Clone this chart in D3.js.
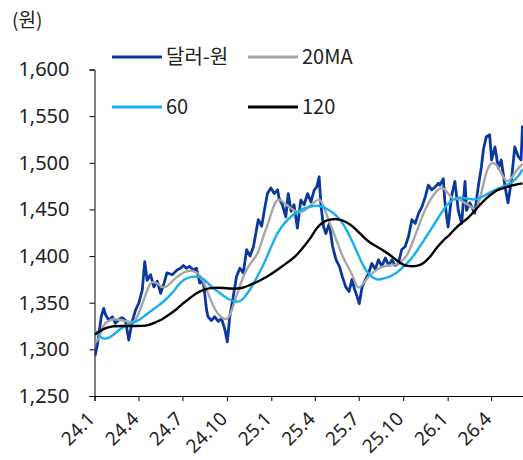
<!DOCTYPE html>
<html>
<head>
<meta charset="utf-8">
<script src="https://cdn.jsdelivr.net/npm/d3@7"></script>
<style>
  html, body { margin: 0; padding: 0; background: #fff; }
  svg text { font-family: "Noto Sans CJK KR", "Noto Sans", sans-serif; fill: #222; }
</style>
</head>
<body>
<div id="chart"></div>
<script>
// 달러-원 (daily)
const usdkrw = [["2024-01-02",1293],["2024-01-07",1305],["2024-01-11",1320],["2024-01-15",1335],["2024-01-20",1344],["2024-01-24",1337],["2024-01-31",1331],["2024-02-07",1335],["2024-02-13",1328],["2024-02-17",1330],["2024-02-23",1333],["2024-02-27",1334],["2024-03-05",1331],["2024-03-12",1310],["2024-03-19",1330],["2024-03-26",1342],["2024-04-02",1350],["2024-04-09",1364],["2024-04-14",1394],["2024-04-19",1374],["2024-04-26",1380],["2024-05-03",1367],["2024-05-10",1373],["2024-05-17",1360],["2024-05-24",1371],["2024-05-30",1382],["2024-06-10",1380],["2024-06-20",1385],["2024-06-27",1387],["2024-07-03",1390],["2024-07-09",1387],["2024-07-16",1389],["2024-07-23",1385],["2024-07-30",1387],["2024-08-06",1371],["2024-08-13",1374],["2024-08-20",1342],["2024-08-23",1335],["2024-08-30",1331],["2024-09-06",1335],["2024-09-13",1330],["2024-09-20",1333],["2024-09-27",1321],["2024-10-02",1308],["2024-10-07",1335],["2024-10-14",1356],["2024-10-21",1378],["2024-10-28",1387],["2024-11-04",1382],["2024-11-11",1407],["2024-11-18",1400],["2024-11-25",1410],["2024-12-05",1439],["2024-12-12",1432],["2024-12-19",1453],["2024-12-24",1467],["2024-12-31",1473],["2025-01-07",1467],["2025-01-14",1471],["2025-01-17",1462],["2025-01-24",1455],["2025-01-31",1442],["2025-02-05",1467],["2025-02-11",1448],["2025-02-17",1455],["2025-02-24",1430],["2025-03-03",1460],["2025-03-10",1455],["2025-03-17",1467],["2025-03-24",1458],["2025-03-31",1471],["2025-04-05",1474],["2025-04-10",1485],["2025-04-14",1453],["2025-04-19",1432],["2025-04-24",1424],["2025-05-01",1435],["2025-05-08",1410],["2025-05-15",1396],["2025-05-22",1389],["2025-05-28",1378],["2025-06-04",1367],["2025-06-11",1362],["2025-06-17",1375],["2025-06-22",1365],["2025-06-28",1356],["2025-07-02",1349],["2025-07-08",1367],["2025-07-14",1374],["2025-07-21",1381],["2025-07-28",1392],["2025-08-04",1386],["2025-08-11",1396],["2025-08-18",1389],["2025-08-25",1398],["2025-09-01",1390],["2025-09-08",1396],["2025-09-14",1390],["2025-09-21",1392],["2025-09-28",1407],["2025-10-05",1410],["2025-10-12",1421],["2025-10-19",1439],["2025-10-26",1435],["2025-11-02",1446],["2025-11-09",1453],["2025-11-16",1464],["2025-11-22",1476],["2025-11-29",1471],["2025-12-06",1474],["2025-12-13",1478],["2025-12-16",1476],["2025-12-23",1483],["2025-12-26",1460],["2025-12-30",1442],["2026-01-02",1431],["2026-01-09",1464],["2026-01-16",1480],["2026-01-23",1449],["2026-01-30",1435],["2026-02-06",1480],["2026-02-09",1449],["2026-02-16",1457],["2026-02-26",1446],["2026-03-05",1473],["2026-03-12",1496],["2026-03-16",1514],["2026-03-22",1528],["2026-03-29",1530],["2026-04-02",1503],["2026-04-09",1517],["2026-04-16",1494],["2026-04-22",1503],["2026-04-30",1474],["2026-05-06",1457],["2026-05-13",1481],["2026-05-20",1517],["2026-05-27",1507],["2026-06-02",1503],["2026-06-05",1540]]

// 20MA
const ma20 = [["2024-01-02",1307],["2024-01-10",1310],["2024-01-20",1328],["2024-01-31",1331],["2024-02-13",1333],["2024-02-27",1331],["2024-03-12",1330],["2024-03-23",1328],["2024-04-02",1339],["2024-04-12",1353],["2024-04-23",1369],["2024-04-29",1373],["2024-05-10",1371],["2024-05-20",1366],["2024-05-30",1367],["2024-06-10",1373],["2024-06-20",1378],["2024-06-29",1381],["2024-07-06",1383],["2024-07-20",1385],["2024-08-03",1382],["2024-08-13",1374],["2024-08-23",1360],["2024-09-03",1346],["2024-09-13",1337],["2024-09-23",1333],["2024-10-04",1331],["2024-10-14",1346],["2024-10-25",1364],["2024-11-04",1378],["2024-11-14",1389],["2024-11-25",1396],["2024-12-05",1403],["2024-12-15",1421],["2024-12-24",1433],["2024-12-28",1439],["2025-01-07",1457],["2025-01-17",1462],["2025-01-27",1457],["2025-02-06",1453],["2025-02-17",1449],["2025-02-27",1446],["2025-03-10",1448],["2025-03-20",1453],["2025-03-31",1458],["2025-04-10",1462],["2025-04-17",1457],["2025-04-27",1442],["2025-05-08",1428],["2025-05-18",1414],["2025-05-28",1400],["2025-06-08",1389],["2025-06-18",1380],["2025-06-24",1371],["2025-06-30",1364],["2025-07-11",1371],["2025-07-21",1378],["2025-08-01",1383],["2025-08-11",1387],["2025-08-21",1389],["2025-09-01",1390],["2025-09-11",1390],["2025-09-21",1392],["2025-10-02",1396],["2025-10-12",1403],["2025-10-22",1417],["2025-11-02",1432],["2025-11-12",1446],["2025-11-22",1457],["2025-12-03",1466],["2025-12-13",1472],["2025-12-23",1474],["2026-01-02",1467],["2026-01-13",1460],["2026-01-23",1462],["2026-02-02",1458],["2026-02-13",1455],["2026-02-23",1451],["2026-03-02",1449],["2026-03-12",1467],["2026-03-22",1492],["2026-04-02",1501],["2026-04-12",1499],["2026-04-22",1489],["2026-05-03",1478],["2026-05-13",1483],["2026-05-23",1492],["2026-06-05",1499]]

// 60
const ma60 = [["2024-01-02",1320],["2024-01-10",1314],["2024-01-20",1311],["2024-01-31",1312],["2024-02-10",1316],["2024-02-21",1321],["2024-03-05",1326],["2024-03-19",1328],["2024-04-02",1331],["2024-04-16",1337],["2024-04-29",1342],["2024-05-13",1347],["2024-05-27",1353],["2024-06-10",1360],["2024-06-22",1369],["2024-07-06",1376],["2024-07-20",1378],["2024-08-03",1378],["2024-08-13",1376],["2024-08-23",1371],["2024-09-03",1365],["2024-09-13",1362],["2024-09-27",1356],["2024-10-07",1353],["2024-10-18",1351],["2024-10-28",1351],["2024-11-07",1356],["2024-11-18",1364],["2024-11-28",1373],["2024-12-08",1383],["2024-12-19",1394],["2024-12-30",1408],["2025-01-13",1425],["2025-02-03",1440],["2025-03-02",1450],["2025-03-23",1453],["2025-04-08",1455],["2025-04-26",1451],["2025-05-17",1444],["2025-06-06",1429],["2025-06-27",1405],["2025-07-11",1388],["2025-07-25",1378],["2025-08-08",1374],["2025-08-21",1376],["2025-09-04",1378],["2025-09-18",1382],["2025-10-02",1389],["2025-10-15",1395],["2025-10-29",1405],["2025-11-12",1416],["2025-11-29",1430],["2025-12-16",1444],["2025-12-30",1455],["2026-01-13",1461],["2026-01-26",1463],["2026-02-09",1462],["2026-02-23",1460],["2026-03-09",1462],["2026-03-22",1466],["2026-04-05",1470],["2026-04-19",1473],["2026-05-03",1476],["2026-05-17",1480],["2026-05-27",1485],["2026-06-05",1493]]

// 120
const ma120 = [["2024-01-02",1316],["2024-01-10",1319],["2024-01-24",1323],["2024-02-07",1325],["2024-02-27",1325],["2024-03-19",1325],["2024-04-09",1325],["2024-04-23",1326],["2024-05-06",1329],["2024-05-20",1332],["2024-06-03",1337],["2024-06-17",1342],["2024-06-29",1348],["2024-07-17",1355],["2024-07-31",1361],["2024-08-14",1364],["2024-08-28",1366],["2024-09-10",1366],["2024-09-24",1366],["2024-10-08",1365],["2024-10-22",1365],["2024-11-04",1366],["2024-11-18",1369],["2024-12-02",1372],["2024-12-16",1376],["2024-12-30",1380],["2025-01-13",1385],["2025-01-26",1390],["2025-02-09",1395],["2025-02-23",1401],["2025-03-09",1410],["2025-03-23",1419],["2025-04-02",1428],["2025-04-12",1434],["2025-04-23",1438],["2025-05-03",1439],["2025-05-13",1440],["2025-05-24",1439],["2025-06-03",1437],["2025-06-13",1434],["2025-06-27",1428],["2025-07-11",1420],["2025-07-25",1414],["2025-08-08",1410],["2025-08-21",1406],["2025-09-04",1401],["2025-09-18",1395],["2025-10-02",1390],["2025-10-15",1389],["2025-10-29",1389],["2025-11-12",1392],["2025-11-26",1399],["2025-12-09",1409],["2025-12-23",1417],["2026-01-06",1423],["2026-01-19",1431],["2026-01-31",1436],["2026-02-13",1441],["2026-02-25",1448],["2026-03-09",1455],["2026-03-22",1462],["2026-04-05",1468],["2026-04-19",1472],["2026-05-03",1474],["2026-05-17",1476],["2026-06-05",1478]]

const yTicks = [1250, 1300, 1350, 1400, 1450, 1500, 1550, 1600]
const xTickLabels = ["24.1", "24.4", "24.7", "24.10", "25.1", "25.4", "25.7", "25.10", "26.1", "26.4"]

const m = { width: 523, height: 460 }
const plot = { left: 94.5, right: 523, top: 69.5, bottom: 396 }

const parse = d3.timeParse("%Y-%m-%d")
const labelDate = s => new Date(2000 + +s.split(".")[0], +s.split(".")[1] - 1, 1)

const svg = d3.select("#chart").append("svg")
    .attr("width", m.width)
    .attr("height", m.height)

const x = d3.scaleTime()
    .domain([new Date(2024, 0, 1), new Date(2026, 5, 6)])
    .range([plot.left, plot.right])

const y = d3.scaleLinear()
    .domain([1250, 1600])
    .range([plot.bottom, plot.top])

svg.append("clipPath").attr("id", "clip")
    .append("rect")
    .attr("x", plot.left).attr("y", 0)
    .attr("width", plot.right - plot.left).attr("height", plot.bottom)

// axes
const yAxis = svg.append("g")
    .attr("transform", `translate(${plot.left},0)`)
    .call(d3.axisLeft(y).tickValues(yTicks).tickSize(5).tickPadding(20).tickFormat(d3.format(",")))
yAxis.selectAll("text").style("font-size", "20px").style("font-family", "'Noto Sans', sans-serif")

const xAxis = svg.append("g")
    .attr("transform", `translate(0,${plot.bottom})`)
    .call(d3.axisBottom(x).tickValues(xTickLabels.map(labelDate)).tickSize(5)
        .tickFormat((d, i) => xTickLabels[i]))
xAxis.selectAll("text")
    .style("font-size", "19px")
    .style("font-family", "'Noto Sans', sans-serif")
    .attr("text-anchor", "end")
    .attr("dy", null)
    .attr("y", 0)
    .attr("transform", "translate(1,24) rotate(-45)")

svg.selectAll(".domain, .tick line").attr("stroke", "#000")

// lines
const line = d3.line()
    .x(d => x(parse(d[0])))
    .y(d => y(d[1]))

const series = [
    { name: "달러-원", data: usdkrw, color: "#0a389e", w: 2.8 },
    { name: "20MA", data: ma20, color: "#a6a6a6", w: 2.4 },
    { name: "60", data: ma60, color: "#14b1ec", w: 2.4 },
    { name: "120", data: ma120, color: "#000000", w: 2.4 }
]

const g = svg.append("g").attr("clip-path", "url(#clip)")
series.forEach(s => {
    g.append("path")
        .datum(s.data)
        .attr("fill", "none")
        .attr("stroke", s.color)
        .attr("stroke-width", s.w)
        .attr("stroke-linejoin", "round")
        .attr("d", s.name === "달러-원" ? line.curve(d3.curveLinear)(s.data) : line.curve(d3.curveBasis)(s.data))
})

// unit
svg.append("text")
    .attr("x", 12).attr("y", 27)
    .style("font-size", "19px")
    .text("(원)")

// legend
const legendPos = [[112, 57], [248, 57], [112, 107], [248, 107]]
series.forEach((s, i) => {
    const [lx, ly] = legendPos[i]
    svg.append("line")
        .attr("x1", lx).attr("x2", lx + 50)
        .attr("y1", ly).attr("y2", ly)
        .attr("stroke", s.color)
        .attr("stroke-width", 3)
    svg.append("text")
        .attr("x", lx + 54).attr("y", ly)
        .attr("dy", "0.35em")
        .style("font-size", "20px")
        .text(s.name)
})
</script>
